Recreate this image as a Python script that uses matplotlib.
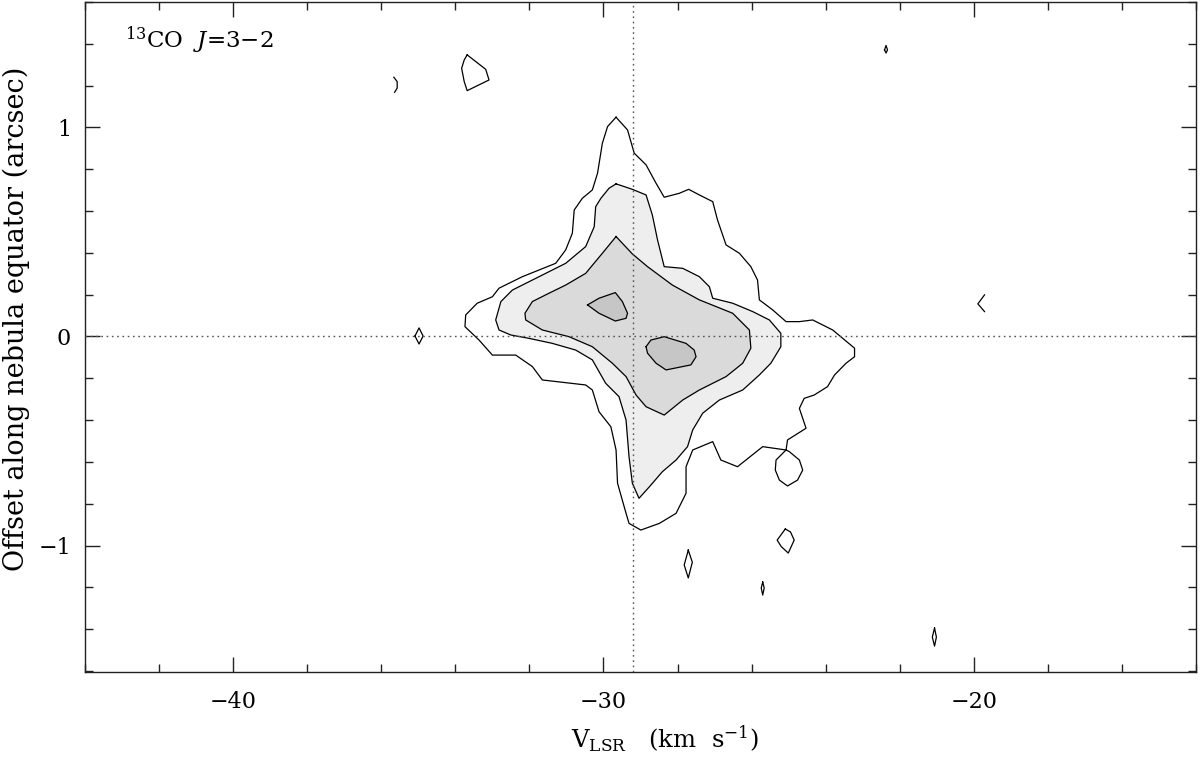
import matplotlib
matplotlib.use("Agg")
import matplotlib.pyplot as plt
from matplotlib.ticker import MultipleLocator

plt.rcParams['font.family'] = ['DejaVu Serif']
plt.rcParams['mathtext.fontset'] = 'dejavuserif'

# position-velocity contours, (velocity km/s, offset arcsec)
v_sys = -29.19

# lowest contour: main envelope
level1_main = [
    (-29.66, 1.049), (-29.35, 0.988), (-29.17, 0.877), (-28.85, 0.821), (-28.58, 0.733),
    (-28.36, 0.666), (-27.95, 0.685), (-27.70, 0.704), (-27.41, 0.677), (-27.05, 0.645),
    (-26.92, 0.557), (-26.69, 0.438), (-26.33, 0.398), (-26.02, 0.334), (-25.84, 0.270),
    (-25.79, 0.175), (-25.43, 0.127), (-25.07, 0.071), (-24.71, 0.071), (-24.35, 0.079),
    (-23.81, 0.031), (-23.22, -0.056), (-23.22, -0.097), (-23.45, -0.128), (-23.76, -0.184),
    (-23.95, -0.240), (-24.31, -0.280), (-24.58, -0.296), (-24.71, -0.344), (-24.53, -0.439),
    (-25.03, -0.495), (-25.07, -0.543), (-25.70, -0.527), (-26.38, -0.623), (-26.83, -0.591),
    (-27.05, -0.503), (-27.59, -0.543), (-27.77, -0.623), (-27.77, -0.750), (-28.04, -0.846),
    (-28.49, -0.894), (-28.99, -0.926), (-29.31, -0.894), (-29.39, -0.846), (-29.62, -0.702),
    (-29.66, -0.543), (-29.80, -0.432), (-30.12, -0.360), (-30.30, -0.256), (-30.48, -0.232),
    (-31.65, -0.208), (-31.92, -0.144), (-32.37, -0.089), (-33.00, -0.089), (-33.36, -0.017),
    (-33.74, 0.047), (-33.72, 0.103), (-33.41, 0.159), (-33.00, 0.190), (-32.82, 0.231),
    (-32.19, 0.286), (-31.74, 0.318), (-31.29, 0.350), (-31.02, 0.414), (-30.84, 0.494),
    (-30.79, 0.605), (-30.57, 0.661), (-30.30, 0.701), (-30.16, 0.781), (-30.03, 0.924),
    (-29.89, 1.004),
]

# lowest contour: small islands (closed)
level1_islands = [
    [(-33.68, 1.347), (-33.18, 1.278), (-33.09, 1.227), (-33.68, 1.176), (-33.76, 1.219),
     (-33.83, 1.283), (-33.76, 1.323)],
    [(-35.09, 0.002), (-34.98, 0.041), (-34.87, 0.002), (-34.98, -0.036)],
    [(-22.41, 1.371), (-22.37, 1.392), (-22.33, 1.371), (-22.37, 1.356)],
    [(-25.07, -0.543), (-25.34, -0.591), (-25.36, -0.639), (-25.25, -0.687), (-25.03, -0.715),
     (-24.76, -0.687), (-24.62, -0.639), (-24.71, -0.591), (-24.98, -0.551)],
    [(-27.71, -1.022), (-27.60, -1.080), (-27.71, -1.155), (-27.82, -1.093)],
    [(-25.09, -0.921), (-24.95, -0.935), (-24.85, -0.974), (-25.01, -1.036), (-25.20, -1.005),
     (-25.31, -0.974)],
    [(-25.70, -1.175), (-25.66, -1.203), (-25.70, -1.237), (-25.74, -1.203)],
    [(-21.06, -1.395), (-21.01, -1.438), (-21.06, -1.481), (-21.12, -1.438)],
]

# lowest contour: pieces cut at the map edge (open)
level1_open = [
    [(-35.66, 1.240), (-35.57, 1.219), (-35.57, 1.188), (-35.64, 1.168)],
    [(-19.71, 0.199), (-19.89, 0.156), (-19.71, 0.119)],
]

level2 = [
    (-29.66, 0.730), (-29.22, 0.704), (-28.85, 0.677), (-28.68, 0.581), (-28.54, 0.462),
    (-28.36, 0.334), (-27.86, 0.326), (-27.41, 0.286), (-27.14, 0.238), (-27.05, 0.183),
    (-26.51, 0.159), (-25.97, 0.119), (-25.52, 0.079), (-25.21, 0.015), (-25.21, -0.049),
    (-25.48, -0.128), (-25.79, -0.184), (-26.24, -0.256), (-26.87, -0.304), (-27.32, -0.367),
    (-27.59, -0.447), (-27.73, -0.527), (-28.04, -0.591), (-28.41, -0.647), (-28.76, -0.719),
    (-29.04, -0.774), (-29.22, -0.702), (-29.31, -0.575), (-29.39, -0.400), (-29.58, -0.288),
    (-29.94, -0.224), (-30.30, -0.112), (-30.75, -0.065), (-31.38, -0.033), (-32.01, -0.009),
    (-32.50, 0.007), (-32.82, 0.031), (-32.91, 0.079), (-32.77, 0.167), (-32.46, 0.222),
    (-32.01, 0.262), (-31.56, 0.302), (-31.02, 0.350), (-30.48, 0.430), (-30.25, 0.525),
    (-30.21, 0.621), (-30.07, 0.661), (-29.85, 0.709),
]

level3 = [
    (-29.66, 0.478), (-29.22, 0.395), (-28.81, 0.334), (-28.14, 0.246), (-27.41, 0.175),
    (-26.51, 0.111), (-26.06, 0.031), (-26.02, -0.056), (-26.24, -0.128), (-26.69, -0.192),
    (-27.41, -0.256), (-27.86, -0.304), (-28.36, -0.376), (-28.85, -0.336), (-29.12, -0.280),
    (-29.39, -0.192), (-29.76, -0.128), (-30.30, -0.049), (-30.93, -0.001), (-31.65, 0.031),
    (-32.10, 0.079), (-32.12, 0.111), (-31.92, 0.167), (-31.47, 0.207), (-31.02, 0.246),
    (-30.48, 0.302), (-30.03, 0.398),
]

level4 = [
    [(-30.43, 0.151), (-30.12, 0.183), (-29.68, 0.210), (-29.49, 0.167), (-29.35, 0.111),
     (-29.39, 0.087), (-29.68, 0.074), (-30.12, 0.111)],
    [(-28.85, -0.049), (-28.72, -0.017), (-28.36, -0.001), (-27.77, -0.033), (-27.55, -0.065),
     (-27.50, -0.097), (-27.64, -0.136), (-28.31, -0.160), (-28.58, -0.128), (-28.81, -0.080)],
]

fill_colors = ['#eeeeee', '#dadada', '#c6c6c6']


def closed(pts):
    xs = [p[0] for p in pts] + [pts[0][0]]
    ys = [p[1] for p in pts] + [pts[0][1]]
    return xs, ys


fig = plt.figure(figsize=(12, 7.58), dpi=100)
ax = fig.add_axes([85 / 1200, 86 / 758, 1111 / 1200, 670 / 758])

# filled levels, lowest first
xs, ys = closed(level2)
ax.fill(xs, ys, color=fill_colors[0], lw=0, zorder=1)
xs, ys = closed(level3)
ax.fill(xs, ys, color=fill_colors[1], lw=0, zorder=2)
for poly in level4:
    xs, ys = closed(poly)
    ax.fill(xs, ys, color=fill_colors[2], lw=0, zorder=3)

# contour outlines
for poly in [level1_main, level2, level3] + level1_islands + level4:
    xs, ys = closed(poly)
    ax.plot(xs, ys, color='black', lw=0.9, zorder=4)
for line in level1_open:
    ax.plot([p[0] for p in line], [p[1] for p in line], color='black', lw=0.9, zorder=4)

# systemic velocity and equator
ax.axvline(v_sys, color='#555555', lw=1.0, ls=(0, (1.2, 2.6)), zorder=5)
ax.axhline(0, color='#555555', lw=1.0, ls=(0, (1.2, 2.6)), zorder=5)

ax.set_xlim(-44, -14)
ax.set_ylim(-1.605, 1.6)
ax.xaxis.set_major_locator(MultipleLocator(10))
ax.xaxis.set_minor_locator(MultipleLocator(2))
ax.yaxis.set_major_locator(MultipleLocator(1))
ax.yaxis.set_minor_locator(MultipleLocator(0.2))
ax.tick_params(which='both', direction='in', top=True, right=True, width=1.0, color='#222222')
ax.tick_params(which='major', length=10.5)
ax.tick_params(which='minor', length=6)
ax.tick_params(axis='x', which='major', labelsize=16, pad=14)
ax.tick_params(axis='y', which='major', labelsize=16, pad=10)
for s in ax.spines.values():
    s.set_linewidth(1.0)
    s.set_color('#222222')

ax.text(0.522, -0.1, r'V$_{\mathrm{LSR}}$   (km  s$^{-1}$)', transform=ax.transAxes,
        ha='center', va='center', fontsize=17.5)
ax.text(-0.062, 0.527, 'Offset along nebula equator (arcsec)', transform=ax.transAxes,
        ha='center', va='center', rotation=90, fontsize=19.5)
ax.text(0.036, 0.931, r'$^{13}$CO  $J$=3$-$2', transform=ax.transAxes,
        ha='left', va='baseline', fontsize=16.5)

fig.savefig('out.png', dpi=100)
